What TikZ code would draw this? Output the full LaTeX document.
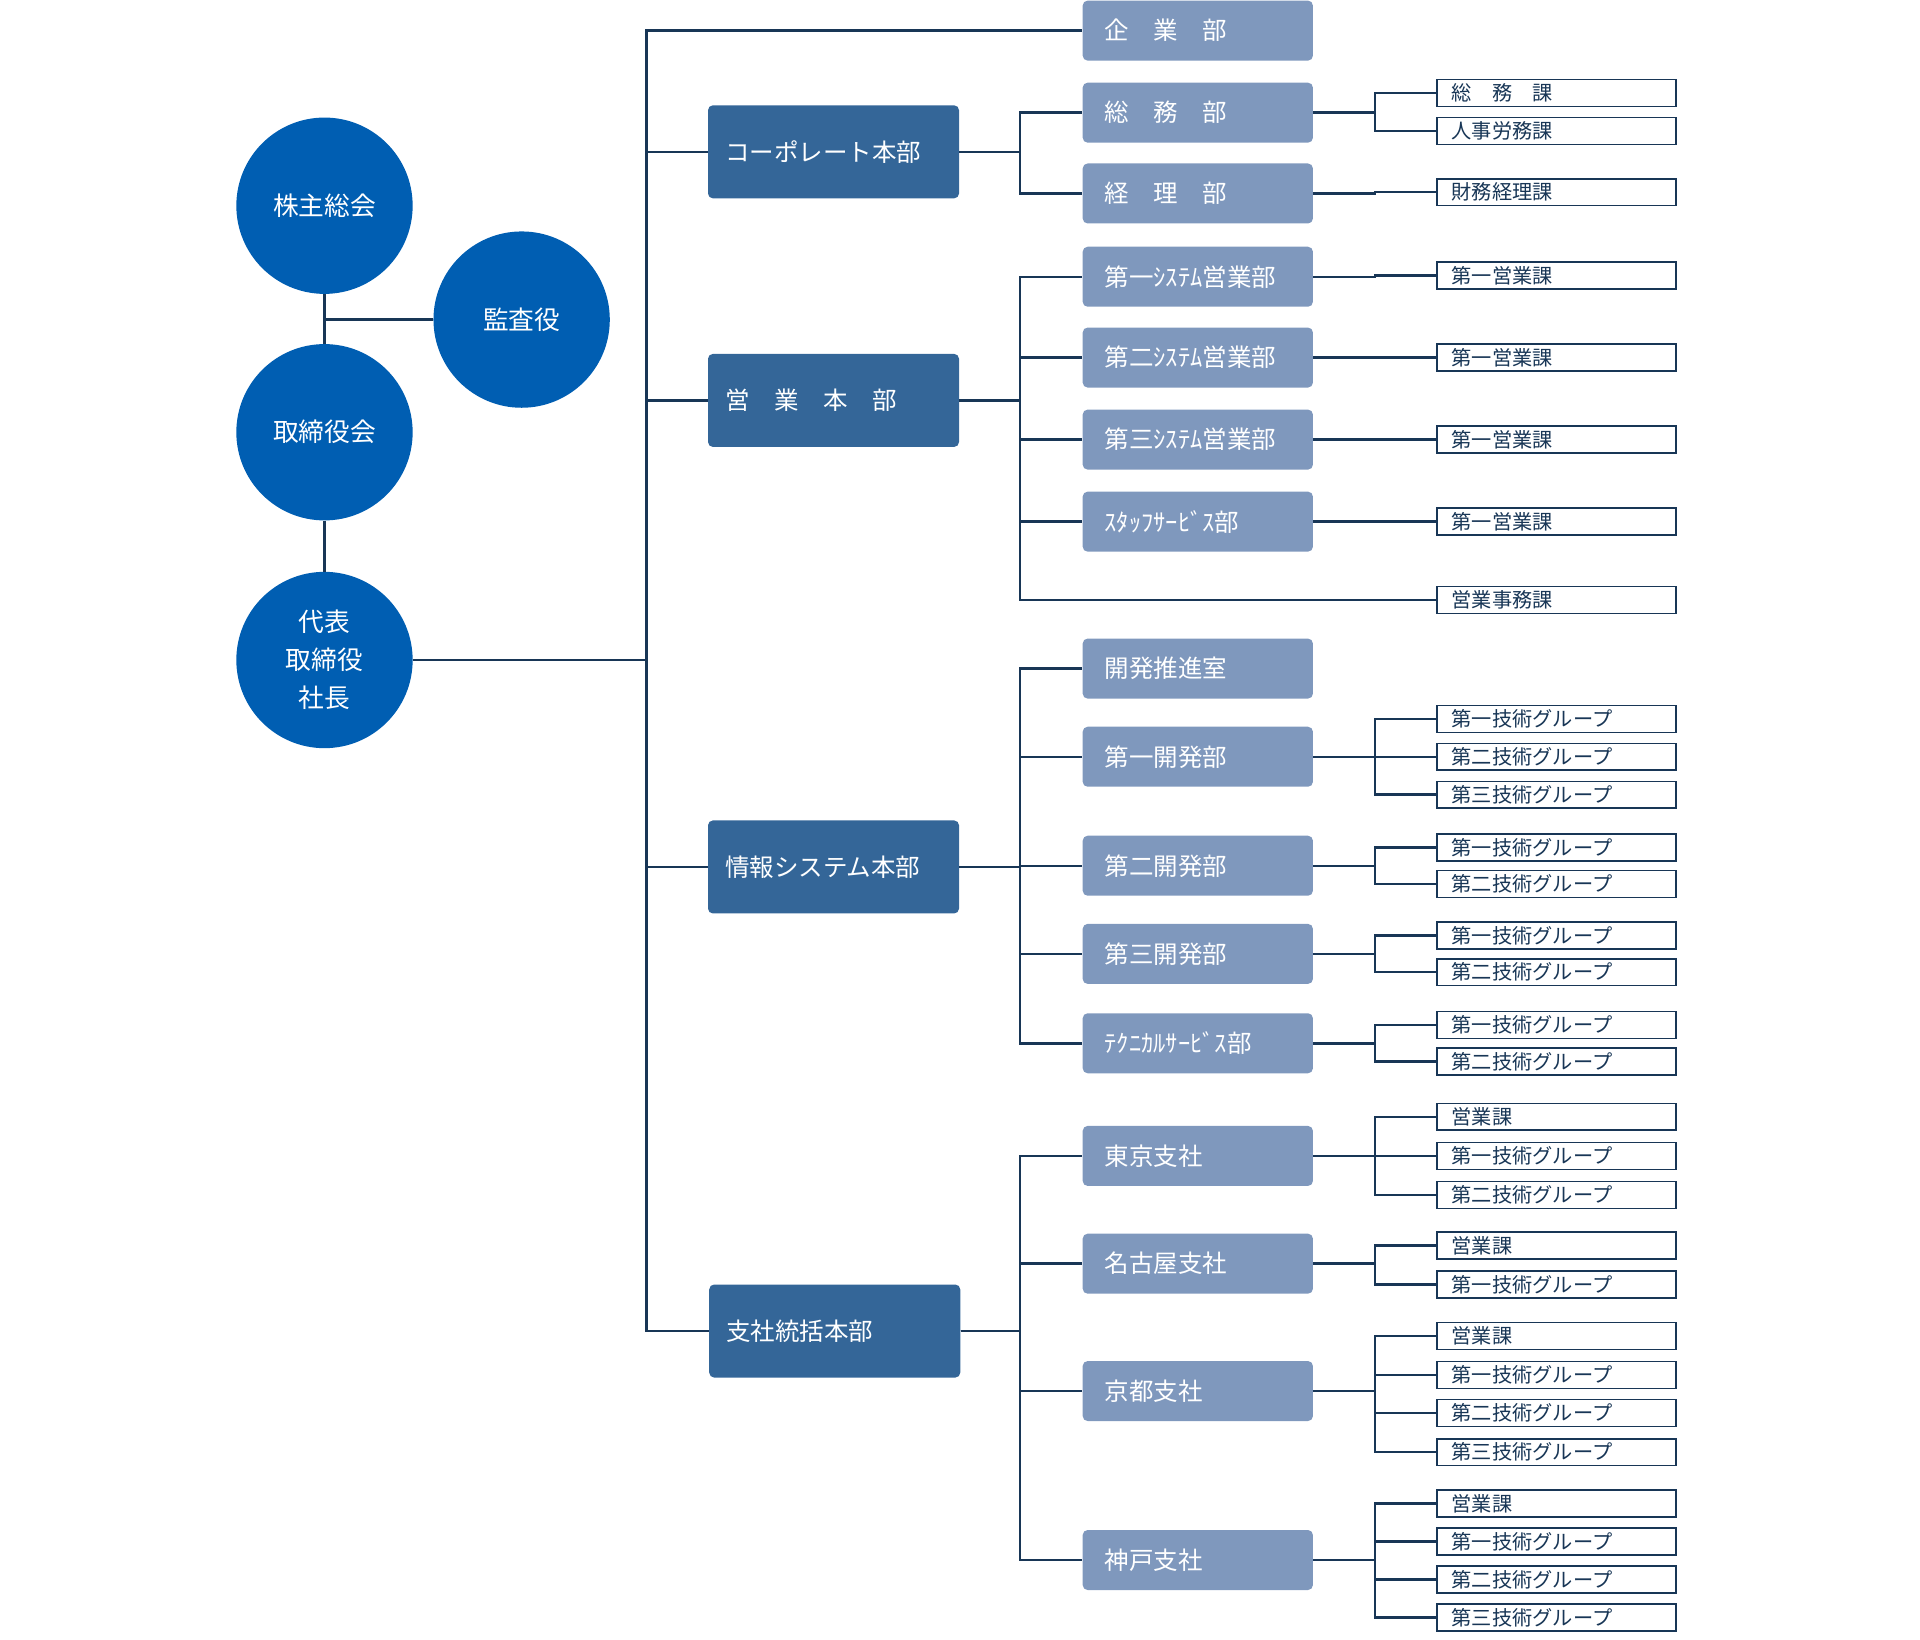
\documentclass[tikz,border=0pt]{standalone}
\usepackage{fontspec}
\setmainfont{Noto Sans CJK JP}
\definecolor{maru}{RGB}{0,94,178}
\definecolor{honbu}{RGB}{52,102,152}
\definecolor{bu}{RGB}{127,152,189}
\definecolor{sen}{RGB}{24,54,86}
\begin{document}
\begin{tikzpicture}[x=1pt, y=-1pt,
  conn/.style={draw=sen, line width=2pt},
  kaigi/.style={circle, fill=maru, text=white, minimum size=144pt, inner sep=0pt,
    align=center, font=\fontsize{21}{31}\selectfont},
  honbubox/.style={rounded corners=4pt, fill=honbu, text=white, anchor=west,
    minimum height=76pt, inner xsep=14pt, text width=177pt, font=\fontsize{20}{24}\selectfont},
  bubox/.style={rounded corners=4pt, fill=bu, text=white, anchor=west,
    minimum height=49pt, inner xsep=18pt, text width=152pt, font=\fontsize{20}{24}\selectfont},
  kabox/.style={draw=sen, line width=1.2pt, fill=white, text=sen, anchor=west,
    minimum height=22pt, inner xsep=12pt, inner ysep=0pt, text width=171pt,
    font=\fontsize{16.5}{18}\selectfont}]
  \useasboundingbox (0,0) rectangle (1568,1339);

  % top of the organisation
  \node[kaigi] (kabunushi) at (265,168) {株主総会};
  \node[kaigi] (kansa) at (426,261) {監査役};
  \node[kaigi] (torishimari) at (265,353) {取締役会};
  \node[kaigi] (shacho) at (265,539) {代表\\取締役\\社長};
  \draw[conn] (kabunushi.south) -- (torishimari.north);
  \draw[conn] (torishimari.south) -- (shacho.north);
  \draw[conn] (kansa.west) -- (kansa.west -| kabunushi);

  \coordinate (bus1) at (528,0);
  \coordinate (bus2) at (833,0);
  \coordinate (bus3) at (1123,0);

  % honbu
  \node[honbubox] (corp) at (578,124) {コーポレート本部};
  \node[honbubox] (eigyo) at (578,327) {営　業　本　部};
  \node[honbubox] (joho) at (578,708) {情報システム本部};
  \node[honbubox] (shisha) at (579,1087) {支社統括本部};

  % bu
  \foreach \n/\y/\t in {kigyo/25/企　業　部, somu/92/総　務　部, keiri/158/経　理　部,
      sys1/226/第一ｼｽﾃﾑ営業部, sys2/292/第二ｼｽﾃﾑ営業部, sys3/359/第三ｼｽﾃﾑ営業部,
      staff/426/ｽﾀｯﾌｻｰﾋﾞｽ部, kaihatsu/546/開発推進室, dev1/618/第一開発部,
      dev2/707/第二開発部, dev3/779/第三開発部, tech/852/ﾃｸﾆｶﾙｻｰﾋﾞｽ部,
      tokyo/944/東京支社, nagoya/1032/名古屋支社, kyoto/1136/京都支社, kobe/1274/神戸支社}
    \node[bubox] (\n) at (884,\y) {\t};

  % ka / groups
  \foreach \n/\y/\t in {somuka/76/総　務　課, jinji/107/人事労務課, zaimu/157/財務経理課,
      s1ka/225/第一営業課, s2ka/292/第一営業課, s3ka/359/第一営業課, stka/426/第一営業課,
      jimuka/490/営業事務課,
      d1a/587/第一技術グループ, d1b/618/第二技術グループ, d1c/649/第三技術グループ,
      d2a/692/第一技術グループ, d2b/722/第二技術グループ,
      d3a/764/第一技術グループ, d3b/794/第二技術グループ,
      tca/837/第一技術グループ, tcb/867/第二技術グループ,
      tka/912/営業課, tkb/944/第一技術グループ, tkc/976/第二技術グループ,
      nga/1017/営業課, ngb/1049/第一技術グループ,
      kya/1091/営業課, kyb/1123/第一技術グループ, kyc/1154/第二技術グループ, kyd/1186/第三技術グループ,
      kba/1228/営業課, kbb/1259/第一技術グループ, kbc/1290/第二技術グループ, kbd/1321/第三技術グループ}
    \node[kabox] (\n) at (1173,\y) {\t};

  % connectors
  \foreach \c in {kigyo, corp, eigyo, joho, shisha}
    \draw[conn] (shacho.east) -- (shacho.east -| bus1) |- (\c.west);
  \foreach \c/\p in {somu/corp, keiri/corp, sys1/eigyo, sys2/eigyo, sys3/eigyo, staff/eigyo,
      jimuka/eigyo, kaihatsu/joho, dev1/joho, dev2/joho, dev3/joho, tech/joho,
      tokyo/shisha, nagoya/shisha, kyoto/shisha, kobe/shisha}
    \draw[conn] (\p.east) -- (\p.east -| bus2) |- (\c.west);
  \foreach \c/\p in {somuka/somu, jinji/somu, zaimu/keiri, s1ka/sys1, s2ka/sys2, s3ka/sys3,
      stka/staff, d1a/dev1, d1b/dev1, d1c/dev1, d2a/dev2, d2b/dev2, d3a/dev3, d3b/dev3,
      tca/tech, tcb/tech, tka/tokyo, tkb/tokyo, tkc/tokyo, nga/nagoya, ngb/nagoya,
      kya/kyoto, kyb/kyoto, kyc/kyoto, kyd/kyoto, kba/kobe, kbb/kobe, kbc/kobe, kbd/kobe}
    \draw[conn] (\p.east) -- (\p.east -| bus3) |- (\c.west);
\end{tikzpicture}
\end{document}
